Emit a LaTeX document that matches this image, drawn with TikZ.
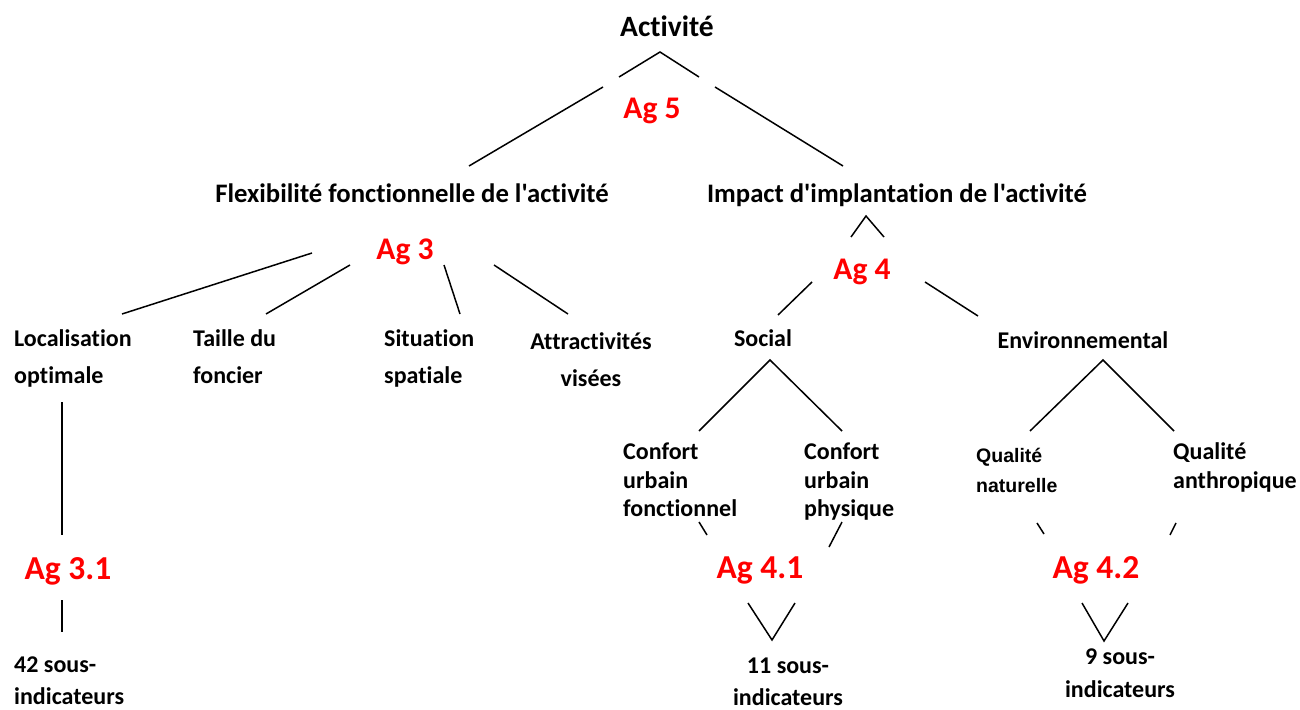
\documentclass[tikz,border=0pt]{standalone}
\usepackage{fontspec}
\setmainfont{Carlito}[Ligatures={TeXOff,CommonOff}]
\newfontfamily\arialf{Liberation Sans}[Ligatures={TeXOff,CommonOff}]
\begin{document}
\begin{tikzpicture}[x=1pt,y=-1pt,
  lbl/.style={inner sep=0pt,font=\bfseries\fontsize{24}{28}\selectfont},
  ag/.style={inner sep=0pt,text=red,font=\bfseries\fontsize{31.5}{36}\selectfont},
  agb/.style={inner sep=0pt,text=red,font=\bfseries\fontsize{33.5}{38}\selectfont},
  ttl/.style={inner sep=0pt,font=\bfseries\fontsize{26.7}{31}\selectfont},
  qn/.style={inner sep=0pt,font=\arialf\bfseries\fontsize{19.5}{23}\selectfont},
  ln/.style={line width=1.5pt,black}]
\useasboundingbox (0,0) rectangle (1300,709);
% texts
\node[inner sep=0pt,font=\bfseries\fontsize{29.5}{34}\selectfont,anchor=base] (act) at (667,37) {Activité};
\node[ag,anchor=base] (ag5) at (652,118) {Ag 5};
\node[ttl,anchor=base] (flex) at (412,202) {Flexibilité fonctionnelle de l'activité};
\node[ttl,anchor=base] (imp) at (897,202) {Impact d'implantation de l'activité};
\node[ag,anchor=base] (ag3) at (405,259) {Ag 3};
\node[lbl,anchor=base west] (loc1) at (14,346) {Localisation};
\node[lbl,anchor=base west] (loc2) at (14,383) {optimale};
\node[lbl,anchor=base west] (tai1) at (193,346) {Taille du};
\node[lbl,anchor=base west] (tai2) at (193,383) {foncier};
\node[lbl,anchor=base west] (sit1) at (384,346) {Situation};
\node[lbl,anchor=base west] (sit2) at (384,383) {spatiale};
\node[lbl,anchor=base] (att1) at (591,349) {Attractivités};
\node[lbl,anchor=base] (att2) at (591,386) {visées};
\node[agb,anchor=base] (ag31) at (68,579) {Ag 3.1};
\node[lbl,anchor=base west] (s42a) at (14,672) {42 sous-};
\node[lbl,anchor=base west] (s42b) at (14,704) {indicateurs};
\node[ag,anchor=base] (ag4) at (862,279) {Ag 4};
\node[lbl,anchor=base] (soc) at (763,346) {Social};
\node[lbl,anchor=base] (env) at (1083,348) {Environnemental};
\node[lbl,anchor=base west] (cf1) at (623,459) {Confort};
\node[lbl,anchor=base west] (cf2) at (623,488) {urbain};
\node[lbl,anchor=base west] (cf3) at (623,516) {fonctionnel};
\node[lbl,anchor=base west] (cp1) at (804,459) {Confort};
\node[lbl,anchor=base west] (cp2) at (804,488) {urbain};
\node[lbl,anchor=base west] (cp3) at (804,516) {physique};
\node[qn,anchor=base west] (qn1) at (976,462) {Qualité};
\node[qn,anchor=base west] (qn2) at (976,492) {naturelle};
\node[lbl,anchor=base west] (qa1) at (1173,459) {Qualité};
\node[lbl,anchor=base west] (qa2) at (1173,488) {anthropique};
\node[agb,anchor=base] (ag41) at (760,578) {Ag 4.1};
\node[agb,anchor=base] (ag42) at (1096,578) {Ag 4.2};
\node[lbl,anchor=base] (s11a) at (788,673) {11 sous-};
\node[lbl,anchor=base] (s11b) at (788,705) {indicateurs};
\node[lbl,anchor=base] (s9a) at (1120,664) {9 sous-};
\node[lbl,anchor=base] (s9b) at (1120,697) {indicateurs};
% coordinates
\coordinate (a5t) at (660,52);
\coordinate (a5l) at (619,77);
\coordinate (a5r) at (699,77);
\coordinate (a5la) at (603,87);
\coordinate (a5lb) at (469,166);
\coordinate (a5ra) at (715,87);
\coordinate (a5rb) at (843,166);
\coordinate (g3a) at (312,253);
\coordinate (g3ab) at (122,314);
\coordinate (g3b) at (350,265);
\coordinate (g3bb) at (266,314);
\coordinate (g3c) at (444,265);
\coordinate (g3cb) at (460,314);
\coordinate (g3d) at (494,265);
\coordinate (g3db) at (568,314);
\coordinate (l31a) at (62,402);
\coordinate (l31b) at (62,535);
\coordinate (l31c) at (62,600);
\coordinate (l31d) at (62,632);
\coordinate (i4t) at (866,216);
\coordinate (i4l) at (851,237);
\coordinate (i4r) at (884,237);
\coordinate (g4a) at (812,282);
\coordinate (g4ab) at (778,315);
\coordinate (g4b) at (925,282);
\coordinate (g4bb) at (978,316);
\coordinate (sot) at (770,360);
\coordinate (sol) at (699,431);
\coordinate (sor) at (842,431);
\coordinate (ent) at (1103,360);
\coordinate (enl) at (1030,431);
\coordinate (enr) at (1174,431);
\coordinate (f1a) at (699,522);
\coordinate (f1b) at (707,535);
\coordinate (p1a) at (842,522);
\coordinate (p1b) at (829,547);
\coordinate (n1a) at (1037,523);
\coordinate (n1b) at (1044,534);
\coordinate (q1a) at (1176,523);
\coordinate (q1b) at (1170,535);
\coordinate (v1l) at (748,603);
\coordinate (v1m) at (772,640);
\coordinate (v1r) at (795,603);
\coordinate (v2l) at (1082,603);
\coordinate (v2m) at (1104,641);
\coordinate (v2r) at (1128,603);
% lines
\draw[ln] (a5l) -- (a5t) -- (a5r);
\draw[ln] (a5la) -- (a5lb);
\draw[ln] (a5ra) -- (a5rb);
\draw[ln] (g3a) -- (g3ab);
\draw[ln] (g3b) -- (g3bb);
\draw[ln] (g3c) -- (g3cb);
\draw[ln] (g3d) -- (g3db);
\draw[ln] (l31a) -- (l31b);
\draw[ln] (l31c) -- (l31d);
\draw[ln] (i4l) -- (i4t) -- (i4r);
\draw[ln] (g4a) -- (g4ab);
\draw[ln] (g4b) -- (g4bb);
\draw[ln] (sol) -- (sot) -- (sor);
\draw[ln] (enl) -- (ent) -- (enr);
\draw[ln] (f1a) -- (f1b);
\draw[ln] (p1a) -- (p1b);
\draw[ln] (n1a) -- (n1b);
\draw[ln] (q1a) -- (q1b);
\draw[ln] (v1l) -- (v1m) -- (v1r);
\draw[ln] (v2l) -- (v2m) -- (v2r);
\end{tikzpicture}
\end{document}
